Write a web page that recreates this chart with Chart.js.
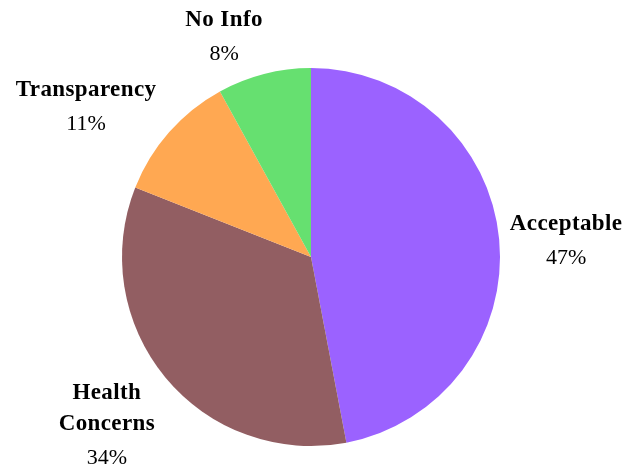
<!DOCTYPE html>
<html>
<head>
<meta charset="utf-8">
<script src="https://cdn.jsdelivr.net/npm/chart.js@4"></script>
<style>
  html, body { margin: 0; padding: 0; background: #fff; }
  #wrap { width: 636px; height: 471px; }
</style>
</head>
<body>
<div id="wrap"><canvas id="pie" width="636" height="471"></canvas></div>
<script>
const categories = ['Acceptable', 'Health Concerns', 'Transparency', 'No Info'];
const shares = [47, 34, 11, 8];
const sliceColors = ['#9b62ff', '#925e62', '#ffa852', '#66e070'];

// label lines for each slice (name may wrap)
const labelLines = [['Acceptable'], ['Health', 'Concerns'], ['Transparency'], ['No Info']];
// label anchor offsets, in units of the pie radius from the centre
const labelOffset = [[1.35, -0.09], [-1.08, 0.89], [-1.19, -0.80], [-0.46, -1.17]];

const outsideLabels = {
  id: 'outsideLabels',
  afterDatasetsDraw(chart) {
    const ctx = chart.ctx;
    const arc = chart.getDatasetMeta(0).data[0];
    const cx = arc.x, cy = arc.y, r = arc.outerRadius;
    ctx.save();
    ctx.fillStyle = '#000';
    ctx.textAlign = 'center';
    ctx.textBaseline = 'middle';
    labelLines.forEach((lines, i) => {
      const x = cx + labelOffset[i][0] * r;
      let y = cy + labelOffset[i][1] * r - (lines.length) * 16;
      ctx.font = 'bold 23px "Liberation Serif", "Times New Roman", serif';
      ctx.letterSpacing = '0.4px';
      lines.forEach(t => { ctx.fillText(t, x, y); y += 31; });
      ctx.font = '22px "Liberation Serif", "Times New Roman", serif';
      ctx.letterSpacing = '0px';
      ctx.fillText(shares[i] + '%', x, y + 3);
    });
    ctx.restore();
  }
};

new Chart(document.getElementById('pie'), {
  type: 'pie',
  data: {
    labels: categories,
    datasets: [{ data: shares, backgroundColor: sliceColors, borderWidth: 0 }]
  },
  options: {
    responsive: false,
    animation: false,
    layout: { padding: { left: 122, right: 136, top: 68, bottom: 25 } },
    plugins: { legend: { display: false }, tooltip: { enabled: false } }
  },
  plugins: [outsideLabels]
});
</script>
</body>
</html>
